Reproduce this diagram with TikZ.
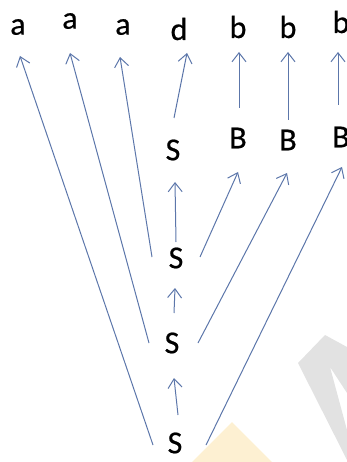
\documentclass[tikz,border=0pt]{standalone}
\usepackage{fontspec}
\setmainfont{Carlito}[FakeBold=0.6]
\usetikzlibrary{arrows.meta}
\definecolor{edgeblue}{RGB}{92,118,170}
\definecolor{markgray}{RGB}{226,226,226}
\definecolor{markorange}{RGB}{253,240,210}
\tikzset{
  sym/.style={inner sep=0pt, font=\fontsize{32}{38}\selectfont},
  deriv/.style={draw=edgeblue, line width=1pt, -{Straight Barb[length=9pt,width=14pt,line width=1pt]}},
}
\begin{document}
\begin{tikzpicture}[x=1pt,y=-1pt]
\useasboundingbox (0,0) rectangle (347,462);
% faint background marks
\fill[markorange] (232,422) -- (272,462) -- (192,462) -- cycle;
\fill[markgray] (298,363) -- (325,335) -- (347,347) -- (347,393) -- (330,367) -- (347,430) -- (347,460) -- cycle;
% terminal symbols
\node[sym] (a1) at (18,27) {a};
\node[sym] (a2) at (70,21) {a};
\node[sym] (a3) at (123,27) {a};
\node[sym] (d)  at (179,29) {d};
\node[sym] (b1) at (238,27) {b};
\node[sym] (b2) at (288,27) {b};
\node[sym] (b3) at (341,22) {b};
% nonterminals
\node[sym] (S1) at (173,150) {S};
\node[sym] (B1) at (238,138) {B};
\node[sym] (B2) at (288,140) {B};
\node[sym] (B3) at (341,137) {B};
\node[sym] (S2) at (176,258) {S};
\node[sym] (S3) at (172,343) {S};
\node[sym] (S4) at (175,443) {S};
% derivation arrows
\draw[deriv] ([shift={(-22,2)}]S4.center) -- ([shift={(2,29)}]a1.center);
\draw[deriv] ([shift={(-23,0)}]S3.center) -- ([shift={(0,32)}]a2.center);
\draw[deriv] ([shift={(-24,-1)}]S2.center) -- ([shift={(-3,30)}]a3.center);
\draw[deriv] ([shift={(1,-32)}]S1.center) -- ([shift={(8,24)}]d.center);
\draw[deriv] ([shift={(1,-30)}]B1.center) -- ([shift={(1,25)}]b1.center);
\draw[deriv] ([shift={(0,-20)}]B2.center) -- ([shift={(0,25)}]b2.center);
\draw[deriv] ([shift={(-3,-32)}]B3.center) -- ([shift={(-3,30)}]b3.center);
\draw[deriv] ([shift={(0,-16)}]S2.center) -- ([shift={(2,32)}]S1.center);
\draw[deriv] ([shift={(2,-30)}]S3.center) -- ([shift={(-1,30)}]S2.center);
\draw[deriv] ([shift={(3,-28)}]S4.center) -- ([shift={(2,35)}]S3.center);
\draw[deriv] ([shift={(24,-1)}]S2.center) -- ([shift={(0,34)}]B1.center);
\draw[deriv] ([shift={(26,0)}]S3.center) -- ([shift={(-1,33)}]B2.center);
\draw[deriv] ([shift={(31,2)}]S4.center) -- ([shift={(1,30)}]B3.center);
\end{tikzpicture}
\end{document}
